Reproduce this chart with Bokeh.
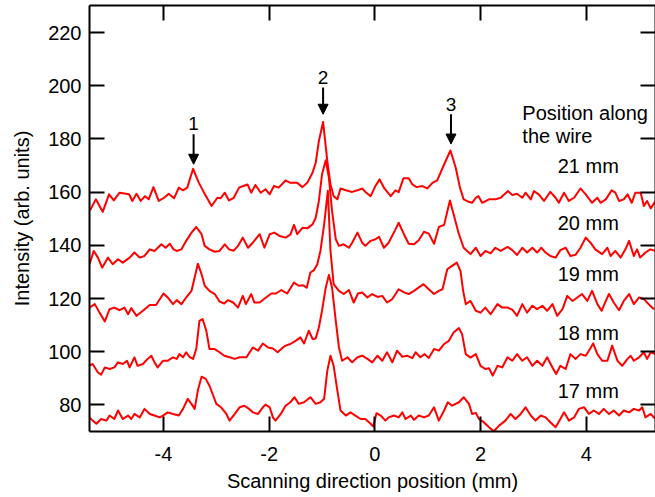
from bokeh.plotting import figure
from bokeh.models import LinearAxis, FixedTicker, Range1d, Arrow, NormalHead, ColumnDataSource
from bokeh.core.properties import value
from bokeh.embed import file_html
from bokeh.resources import INLINE

# ---- data ----
x21 = [-5.39,-5.28,-5.15,-5.03,-4.94,-4.83,-4.65,-4.59,-4.51,-4.43,-4.35,-4.28,-4.19,-4.09,-3.99,-3.90,-3.80,-3.71,-3.63,-3.55,-3.44,-3.33,-3.24,-3.09,-2.98,-2.92,-2.84,-2.76,-2.67,-2.57,-2.49,-2.41,-2.34,-2.26,-2.16,-2.07,-1.99,-1.91,-1.82,-1.69,-1.60,-1.47,-1.37,-1.28,-1.18,-1.12,-1.06,-0.98,-0.90,-0.84,-0.78,-0.71,-0.65,-0.55,-0.43,-0.33,-0.24,-0.18,-0.08,0.01,0.09,0.18,0.30,0.39,0.45,0.54,0.64,0.71,0.79,0.90,0.99,1.09,1.18,1.31,1.43,1.53,1.61,1.68,1.76,1.84,1.91,1.96,2.03,2.16,2.28,2.38,2.52,2.60,2.69,2.79,2.85,2.95,3.01,3.10,3.20,3.32,3.42,3.48,3.58,3.67,3.77,3.89,3.99,4.11,4.21,4.27,4.37,4.48,4.55,4.62,4.71,4.78,4.86,4.93,5.03,5.09,5.15,5.22,5.31]
y21 = [153.2,157.3,152.6,159.2,156.9,159.8,159.2,156.7,159.4,156.7,158.5,157.3,161.9,156.7,157.9,159.4,157.7,161.7,160.7,161.7,168.8,163.5,160.1,154.8,157.9,157.7,159.8,156.9,157.9,161.7,162.3,162.9,159.8,162.7,159.8,161.1,159.2,162.3,161.7,164.4,163.5,163.5,161.9,163.5,167.3,171.0,179.2,186.4,171.7,163.0,158.5,157.3,161.4,160.7,160.1,160.7,161.4,160.1,158.5,162.3,164.8,161.4,158.5,160.7,160.0,165.2,165.2,162.9,161.9,162.3,161.4,163.5,164.4,170.4,175.7,169.2,161.7,157.3,156.5,156.0,157.9,158.5,156.0,157.3,157.3,157.9,160.4,158.9,159.4,157.9,159.8,157.3,160.4,159.2,156.7,160.1,157.9,156.0,159.8,156.7,157.9,161.4,159.2,156.0,157.9,156.0,157.3,160.7,159.8,156.7,157.3,159.2,156.0,159.8,159.8,154.8,156.7,153.9,156.7]

x20 = [-5.40,-5.32,-5.24,-5.16,-5.05,-4.96,-4.86,-4.77,-4.64,-4.55,-4.45,-4.36,-4.26,-4.17,-4.04,-3.96,-3.88,-3.81,-3.75,-3.66,-3.57,-3.47,-3.38,-3.28,-3.22,-3.13,-3.03,-2.94,-2.84,-2.76,-2.67,-2.59,-2.50,-2.40,-2.31,-2.18,-2.09,-1.99,-1.90,-1.80,-1.69,-1.60,-1.53,-1.47,-1.37,-1.28,-1.18,-1.12,-1.06,-1.00,-0.93,-0.87,-0.81,-0.74,-0.68,-0.59,-0.49,-0.43,-0.33,-0.24,-0.18,-0.08,0.01,0.08,0.17,0.26,0.39,0.45,0.55,0.64,0.74,0.83,0.93,1.02,1.12,1.21,1.31,1.42,1.49,1.59,1.68,1.81,1.91,2.00,2.09,2.19,2.28,2.38,2.51,2.60,2.69,2.79,2.88,2.98,3.07,3.15,3.23,3.32,3.42,3.51,3.61,3.70,3.80,3.89,3.99,4.08,4.17,4.30,4.40,4.46,4.55,4.65,4.74,4.81,4.90,4.96,5.02,5.12,5.21,5.31]
y20 = [132.9,137.9,135.4,131.6,135.4,132.9,134.8,133.5,135.4,137.3,135.4,136.0,138.5,137.9,140.4,139.1,140.6,138.5,137.9,138.5,141.7,144.8,146.9,144.2,139.8,138.5,137.6,137.9,140.4,138.5,138.0,139.8,142.9,139.1,141.0,144.2,139.1,144.2,144.8,143.5,142.9,144.0,147.7,144.2,146.6,146.4,147.9,150.4,156.7,166.7,172.0,165.4,152.9,142.3,139.8,140.4,139.1,141.0,144.8,141.0,139.8,141.7,142.3,143.2,139.1,141.0,146.0,148.5,144.2,140.6,140.4,141.9,145.1,144.4,140.6,146.9,147.7,156.9,151.7,144.2,139.1,136.7,139.1,136.0,137.9,137.0,139.1,137.9,139.4,138.2,136.4,139.1,137.3,139.1,137.3,139.1,137.3,136.0,135.4,138.2,139.1,136.0,136.5,139.1,142.9,141.0,138.5,136.7,139.1,136.0,137.9,135.4,138.5,141.7,136.0,138.5,135.4,137.3,138.5,137.9]

x19 = [-5.40,-5.30,-5.21,-5.11,-5.02,-4.93,-4.83,-4.74,-4.67,-4.61,-4.51,-4.39,-4.26,-4.14,-4.00,-3.92,-3.82,-3.75,-3.66,-3.57,-3.47,-3.41,-3.35,-3.28,-3.22,-3.13,-3.03,-2.94,-2.85,-2.78,-2.68,-2.59,-2.50,-2.44,-2.34,-2.28,-2.18,-2.06,-1.96,-1.87,-1.77,-1.66,-1.53,-1.44,-1.36,-1.29,-1.22,-1.15,-1.09,-1.03,-0.96,-0.89,-0.84,-0.78,-0.68,-0.59,-0.49,-0.40,-0.32,-0.24,-0.14,-0.05,0.05,0.14,0.23,0.33,0.45,0.55,0.64,0.74,0.92,1.02,1.12,1.21,1.28,1.37,1.46,1.55,1.62,1.67,1.72,1.81,1.91,2.00,2.09,2.19,2.32,2.41,2.51,2.60,2.69,2.79,2.88,2.98,3.07,3.17,3.26,3.36,3.45,3.55,3.64,3.74,3.83,3.92,4.02,4.11,4.21,4.29,4.37,4.43,4.52,4.62,4.71,4.81,4.90,5.00,5.09,5.18,5.28]
y19 = [116.6,117.9,114.7,111.4,116.0,116.6,115.6,116.6,114.1,116.4,113.5,115.4,117.6,117.6,121.9,120.4,117.9,119.4,117.9,120.4,122.9,127.9,133.1,129.2,124.8,122.9,121.7,118.9,118.1,119.4,118.5,116.6,121.0,117.9,121.7,118.5,118.5,120.4,121.9,121.9,123.2,121.9,126.0,124.8,125.0,124.1,129.8,130.7,132.9,137.9,147.9,160.5,137.9,125.4,122.9,121.7,123.2,118.5,121.9,122.3,120.4,121.7,120.6,121.0,118.5,119.8,123.5,122.3,121.7,122.9,125.4,123.5,121.7,122.9,123.5,131.0,132.3,133.5,130.4,122.9,117.9,119.1,115.4,114.7,116.6,114.1,117.9,116.6,116.6,115.8,113.5,117.9,114.7,117.3,116.0,117.3,115.4,117.9,113.5,116.0,121.0,119.1,120.4,121.7,119.1,122.9,117.9,115.4,119.1,121.7,118.5,115.6,119.1,121.7,117.9,120.4,119.8,117.9,116.0]

x18 = [-5.40,-5.34,-5.24,-5.18,-5.11,-5.02,-4.93,-4.86,-4.77,-4.69,-4.64,-4.55,-4.49,-4.39,-4.30,-4.23,-4.17,-4.11,-4.01,-3.92,-3.82,-3.75,-3.70,-3.63,-3.57,-3.51,-3.44,-3.38,-3.32,-3.26,-3.19,-3.13,-3.03,-2.94,-2.85,-2.75,-2.65,-2.56,-2.43,-2.31,-2.21,-2.12,-2.02,-1.93,-1.84,-1.74,-1.69,-1.60,-1.50,-1.41,-1.34,-1.25,-1.18,-1.12,-1.06,-1.00,-0.93,-0.87,-0.81,-0.74,-0.68,-0.62,-0.52,-0.43,-0.33,-0.24,-0.14,-0.05,0.05,0.14,0.23,0.33,0.42,0.52,0.61,0.71,0.77,0.86,0.94,1.02,1.12,1.21,1.31,1.40,1.49,1.59,1.65,1.72,1.81,1.91,2.00,2.09,2.16,2.23,2.32,2.41,2.51,2.60,2.69,2.79,2.88,2.98,3.07,3.17,3.26,3.36,3.43,3.51,3.61,3.70,3.80,3.89,3.99,4.05,4.13,4.21,4.30,4.40,4.49,4.59,4.68,4.78,4.84,4.90,5.00,5.09,5.15,5.22,5.31]
y18 = [94.8,95.4,92.2,91.4,94.1,93.5,94.1,96.0,95.4,96.6,94.1,97.9,94.7,95.4,97.3,98.5,96.0,94.1,96.6,96.6,97.9,97.3,99.1,97.9,99.8,98.1,97.3,101.0,111.6,112.3,107.9,101.0,101.0,99.8,98.5,97.9,97.3,97.9,97.9,101.6,100.4,103.1,101.6,101.2,99.8,101.6,102.3,102.9,104.1,105.4,103.1,107.9,104.8,105.0,109.1,115.4,124.1,128.9,124.1,111.6,101.6,96.6,97.9,96.0,97.9,98.5,97.3,96.0,98.5,96.6,99.8,96.0,100.4,98.1,98.5,97.6,99.8,97.9,99.1,97.6,101.0,100.4,102.9,104.1,107.2,108.9,106.6,99.1,97.8,99.1,94.7,93.5,93.8,91.0,94.7,94.1,97.9,96.6,99.1,96.6,97.9,94.7,96.6,94.7,97.9,94.1,91.6,94.7,93.5,99.1,97.3,99.1,98.5,100.4,103.1,99.1,96.6,96.6,102.3,96.6,94.7,97.3,98.5,96.6,97.9,99.8,97.3,99.8,99.1]

x17 = [-5.40,-5.34,-5.27,-5.18,-5.08,-5.02,-4.93,-4.86,-4.77,-4.67,-4.61,-4.55,-4.45,-4.36,-4.26,-4.17,-4.07,-4.01,-3.92,-3.82,-3.71,-3.63,-3.54,-3.47,-3.41,-3.35,-3.28,-3.20,-3.13,-3.07,-3.00,-2.91,-2.81,-2.75,-2.65,-2.56,-2.47,-2.38,-2.31,-2.21,-2.12,-2.07,-1.99,-1.93,-1.88,-1.78,-1.69,-1.60,-1.52,-1.44,-1.34,-1.22,-1.12,-1.03,-0.96,-0.90,-0.84,-0.78,-0.71,-0.65,-0.55,-0.46,-0.37,-0.27,-0.18,-0.08,-0.03,0.03,0.11,0.20,0.26,0.36,0.45,0.52,0.58,0.68,0.74,0.83,0.93,1.02,1.12,1.21,1.31,1.38,1.46,1.59,1.68,1.78,1.84,1.91,1.97,2.06,2.16,2.25,2.35,2.47,2.57,2.66,2.76,2.85,2.95,3.04,3.14,3.23,3.32,3.42,3.51,3.58,3.67,3.77,3.86,3.96,4.05,4.14,4.24,4.33,4.43,4.52,4.62,4.71,4.81,4.90,5.00,5.06,5.12,5.22,5.31]
y17 = [75.3,74.1,72.9,74.7,74.1,76.0,74.7,77.9,74.7,76.0,74.7,76.6,75.3,78.5,76.6,76.0,75.3,76.0,77.2,76.6,76.0,78.5,82.3,80.4,78.5,85.4,90.6,89.8,87.2,84.1,80.4,79.1,76.6,74.1,76.6,79.1,79.7,78.5,77.2,76.6,79.1,80.1,79.1,75.3,74.1,76.6,79.7,81.0,82.9,80.4,81.0,82.9,80.4,81.0,82.3,92.9,98.5,94.7,85.4,77.9,76.0,77.2,76.0,74.7,74.7,72.9,71.9,76.9,76.0,74.1,75.3,76.0,75.3,77.2,74.7,76.0,74.4,76.0,75.3,76.0,79.1,74.1,77.9,81.0,79.7,81.0,82.9,80.4,76.6,77.0,74.7,73.5,71.6,70.1,72.2,74.1,76.6,74.7,76.6,79.1,76.0,74.1,76.0,75.3,73.5,71.6,74.7,77.2,74.1,75.3,78.5,79.1,76.6,77.9,76.6,78.5,76.6,77.9,76.0,77.9,77.2,78.5,77.9,79.1,75.3,76.6,74.7]

x_ticks = [-4, -2, 0, 2, 4]
x_tick_labels = ["-4", "-2", "0", "2", "4"]
y_ticks = [80, 100, 120, 140, 160, 180, 200, 220]

peak_x = [-3.43, -0.98, 1.44]
peak_labels = ["1", "2", "3"]
arrow_top = [181.8, 199.4, 189.3]
arrow_tip = [170.5, 189.3, 178.1]
label_y = [185.8, 203.3, 192.9]

pos_labels = ["21 mm", "20 mm", "19 mm", "18 mm", "17 mm"]
pos_label_y = [169.8, 148.4, 129.3, 107.1, 85.4]
title_lines = ["Position along", "the wire"]
title_y = [189.7, 181.1]

FONT = "Liberation Sans"

p = figure(width=655, height=497, output_backend="svg", toolbar_location=None,
           x_range=Range1d(-5.40, 5.31), y_range=Range1d(70, 230.2),
           min_border_left=89, min_border_right=0, min_border_top=5, min_border_bottom=66)
p.grid.visible = False
p.outline_line_color = None
p.background_fill_color = "white"
p.border_fill_color = "white"

def style_axis(ax):
    ax.axis_line_color = "black"
    ax.axis_line_width = 2
    ax.major_tick_line_color = "black"
    ax.major_tick_line_width = 2
    ax.major_tick_in = 15
    ax.major_tick_out = 0
    ax.minor_tick_line_color = None
    ax.major_label_text_font = FONT
    ax.major_label_text_color = "black"
    ax.major_label_text_font_size = "20px"

xa = p.xaxis[0]
xa.ticker = FixedTicker(ticks=x_ticks)
style_axis(xa)
xa.major_label_overrides = dict(zip(x_ticks, x_tick_labels))
xa.major_label_standoff = 15
xa.axis_label = "Scanning direction position (mm)"
xa.axis_label_text_font = FONT
xa.axis_label_text_font_size = "20px"
xa.axis_label_text_font_style = "normal"
xa.axis_label_text_color = "black"
xa.axis_label_standoff = 6

ya = p.yaxis[0]
ya.ticker = FixedTicker(ticks=y_ticks)
style_axis(ya)
ya.major_label_standoff = 8
ya.axis_label = "Intensity (arb. units)"
ya.axis_label_text_font = FONT
ya.axis_label_text_font_size = "20px"
ya.axis_label_text_font_style = "normal"
ya.axis_label_text_color = "black"
ya.axis_label_standoff = 12

top = LinearAxis(ticker=FixedTicker(ticks=x_ticks))
style_axis(top)
top.major_label_standoff = 0
top.major_label_overrides = {t: "" for t in x_ticks}
p.add_layout(top, "above")
right = LinearAxis(ticker=FixedTicker(ticks=y_ticks))
style_axis(right)
right.major_label_standoff = 0
right.major_label_overrides = {t: "" for t in y_ticks}
p.add_layout(right, "right")

for xs, ys in [(x21, y21), (x20, y20), (x19, y19), (x18, y18), (x17, y17)]:
    p.line(xs, ys, line_color="#ff0000", line_width=2, line_join="round")

for x, yt, yb in zip(peak_x, arrow_top, arrow_tip):
    p.add_layout(Arrow(end=NormalHead(size=10, fill_color="black", line_color="black"),
                       x_start=x, y_start=yt, x_end=x, y_end=yb,
                       line_color="black", line_width=2))

src_peaks = ColumnDataSource(dict(x=peak_x, y=label_y, t=peak_labels))
p.text(x="x", y="y", text="t", source=src_peaks, text_font=value(FONT),
       text_font_size="19px", text_align="center", text_baseline="middle", text_color="black")

src_title = ColumnDataSource(dict(x=[2.79] * len(title_lines), y=title_y, t=title_lines))
p.text(x="x", y="y", text="t", source=src_title, text_font=value(FONT),
       text_font_size="20px", text_align="left", text_baseline="middle", text_color="black")

src_pos = ColumnDataSource(dict(x=[3.46] * len(pos_labels), y=pos_label_y, t=pos_labels))
p.text(x="x", y="y", text="t", source=src_pos, text_font=value(FONT),
       text_font_size="20px", text_align="left", text_baseline="middle", text_color="black")

open("out.html", "w").write(file_html(p, INLINE))
